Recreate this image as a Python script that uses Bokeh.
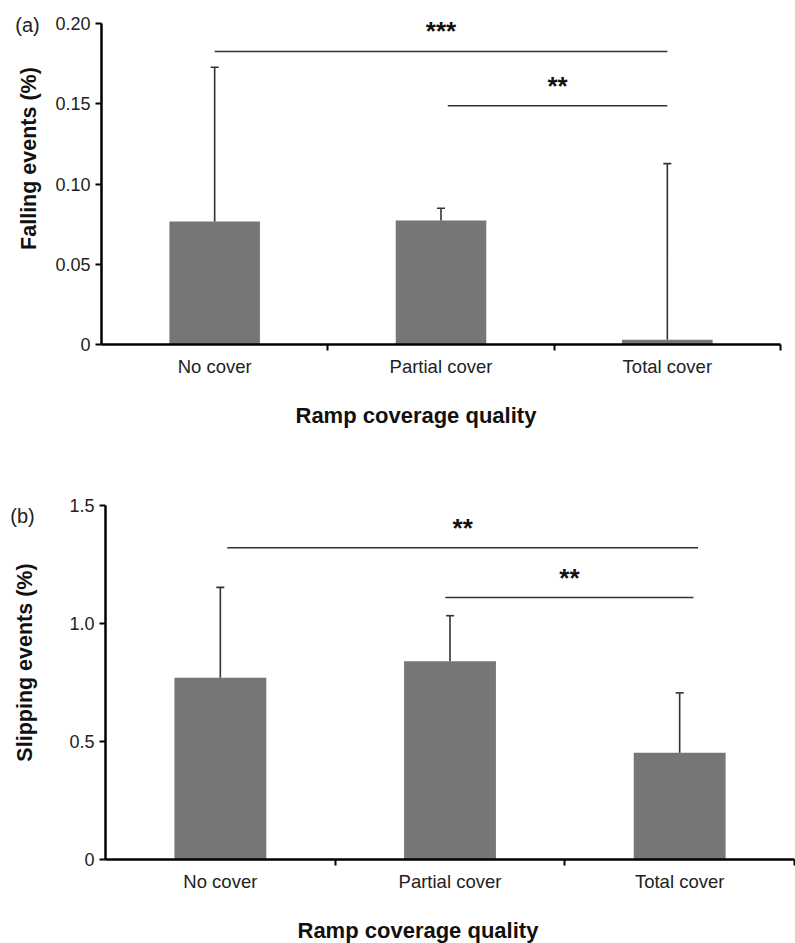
from bokeh.plotting import figure
from bokeh.layouts import column
from bokeh.models import Range1d, FixedTicker, ColumnDataSource, Whisker, TeeHead, Label
from bokeh.embed import file_html
from bokeh.resources import INLINE
from bokeh.core.properties import value

# ---------------- data ----------------
categories = ["No cover", "Partial cover", "Total cover"]

falling_mean = [0.0766, 0.0772, 0.0030]
falling_upper = [0.1727, 0.0849, 0.1127]
falling_ticks = [0, 0.05, 0.10, 0.15, 0.20]
falling_tick_labels = ["0", "0.05", "0.10", "0.15", "0.20"]
falling_sig_start = [0.50, 1.53]
falling_sig_end = [2.50, 2.50]
falling_sig_level = [0.1826, 0.1488]
falling_sig_text = ["***", "**"]

slipping_mean = [0.770, 0.840, 0.452]
slipping_upper = [1.153, 1.033, 0.706]
slipping_ticks = [0, 0.5, 1.0, 1.5]
slipping_tick_labels = ["0", "0.5", "1.0", "1.5"]
slipping_sig_start = [0.53, 1.48]
slipping_sig_end = [2.58, 2.56]
slipping_sig_level = [1.321, 1.110]
slipping_sig_text = ["**", "**"]

x_title = "Ramp coverage quality"

FONT = "Liberation Sans"
BAR = "#767676"
DARK = "#333333"
W = 795


def make_panel(mean, upper, ticks, tick_labels, sig_start, sig_end, sig_level, sig_text,
               ytitle, letter, H, box, ytitle_pos, letter_pos, xtitle_pos):
    """box = (left, top, right, bottom) of the axes area, in canvas pixels."""
    left, top, right, bottom = box
    n = len(categories)
    ymax = ticks[-1]
    xpx = (right - left) / n
    ypx = (bottom - top) / ymax
    x_range = Range1d(-left / xpx, n + (W - right) / xpx)
    y_range = Range1d(-(H - bottom) / ypx, ymax + top / ypx)

    p = figure(width=W, height=H, output_backend="svg", toolbar_location=None,
               x_range=x_range, y_range=y_range,
               min_border=0, min_border_left=0, min_border_right=0,
               min_border_top=0, min_border_bottom=0,
               background_fill_color="white", border_fill_color="white")
    p.outline_line_color = None
    p.xgrid.visible = False
    p.ygrid.visible = False

    xs = [i + 0.5 for i in range(n)]
    src = ColumnDataSource(dict(x=xs, cat=categories, mean=mean, upper=upper))
    p.vbar(x="x", top="mean", width=0.4, bottom=0, source=src,
           fill_color=BAR, line_color=None)
    w = Whisker(base="x", lower="mean", upper="upper", source=src,
                line_color=DARK, line_width=1.6,
                upper_head=TeeHead(size=8, line_color=DARK, line_width=1.6),
                lower_head=None, level="annotation")
    p.add_layout(w)

    # significance brackets
    p.segment(x0=sig_start, x1=sig_end, y0=sig_level, y1=sig_level,
              line_color=DARK, line_width=1.5)
    mids = [(a + b) / 2 for a, b in zip(sig_start, sig_end)]
    p.text(x=mids, y=sig_level, text=sig_text, text_font=value(FONT),
           text_font_style="bold", text_font_size="26px", text_color="#111111",
           text_align="center", text_baseline="alphabetic", y_offset=-20)

    # x axis (placed at y = 0)
    xa = p.xaxis[0]
    xa.fixed_location = 0
    xa.bounds = (0, n)
    xa.ticker = FixedTicker(ticks=xs, minor_ticks=list(range(1, n + 1)))
    xa.major_label_overrides = {x: c for x, c in zip(xs, categories)}
    xa.major_tick_line_color = None
    xa.major_tick_out = 0
    xa.major_tick_in = 0
    xa.minor_tick_out = 6
    xa.minor_tick_in = 0
    xa.minor_tick_line_width = 2
    xa.minor_tick_line_color = "black"
    xa.axis_line_width = 2.5
    xa.axis_line_color = "black"
    xa.major_label_standoff = 5
    xa.major_label_text_font = FONT
    xa.major_label_text_font_size = "18.5px"
    xa.major_label_text_color = "#222222"

    # y axis (placed at x = 0)
    ya = p.yaxis[0]
    ya.fixed_location = 0
    ya.bounds = (0, ymax)
    ya.ticker = FixedTicker(ticks=ticks, minor_ticks=[])
    ya.major_label_overrides = {t: l for t, l in zip(ticks, tick_labels)}
    ya.major_tick_out = 6
    ya.major_tick_in = 0
    ya.major_tick_line_width = 2
    ya.major_tick_line_color = "black"
    ya.minor_tick_line_color = None
    ya.axis_line_width = 2.5
    ya.axis_line_color = "black"
    ya.major_label_standoff = 5
    ya.major_label_text_font = FONT
    ya.major_label_text_font_size = "18px"
    ya.major_label_text_color = "#222222"

    # titles and panel letter (canvas pixels, origin bottom-left)
    p.add_layout(Label(x=ytitle_pos[0], y=H - ytitle_pos[1], x_units="screen", y_units="screen",
                       text=ytitle, angle=90, angle_units="deg",
                       text_align="center", text_baseline="middle",
                       text_font=FONT, text_font_style="bold",
                       text_font_size="21.5px", text_color="#111111"))
    p.add_layout(Label(x=letter_pos[0], y=H - letter_pos[1], x_units="screen", y_units="screen",
                       text=letter, text_align="center", text_baseline="middle",
                       text_font=FONT, text_font_size="20px", text_color="#222222"))
    p.add_layout(Label(x=xtitle_pos[0], y=H - xtitle_pos[1], x_units="screen", y_units="screen",
                       text=x_title, text_align="left", text_baseline="alphabetic",
                       text_font=FONT, text_font_style="bold",
                       text_font_size="22px", text_color="#111111"))
    return p


pa = make_panel(falling_mean, falling_upper, falling_ticks, falling_tick_labels,
                falling_sig_start, falling_sig_end, falling_sig_level, falling_sig_text,
                "Falling events (%)", "(a)", H=468, box=(101, 23, 780, 344),
                ytitle_pos=(28, 158), letter_pos=(27, 24), xtitle_pos=(295, 415))

pb = make_panel(slipping_mean, slipping_upper, slipping_ticks, slipping_tick_labels,
                slipping_sig_start, slipping_sig_end, slipping_sig_level, slipping_sig_text,
                "Slipping events (%)", "(b)", H=475, box=(105, 37, 794, 391),
                ytitle_pos=(24, 194), letter_pos=(22, 47), xtitle_pos=(297, 462))

layout = column(pa, pb, spacing=0)
open("out.html", "w").write(file_html(layout, INLINE))
